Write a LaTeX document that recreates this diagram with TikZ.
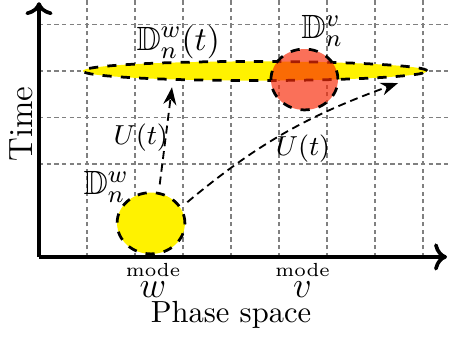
\documentclass[tikz,border=0pt]{standalone}
\usepackage{tikz}
\usepackage{amsmath, amssymb}
\usetikzlibrary{shapes.geometric, arrows.meta}

\definecolor{vred}{RGB}{248,42,8}

\tikzset{
    gridline/.style={gray, thin, dash pattern=on 1.4pt off 1.1pt},
    disk/.style={ellipse, draw=black, line width=0.9pt, dashed, inner sep=0pt},
    flow/.style={-Stealth, semithick, dash pattern=on 2.6pt off 1.6pt, shorten <=2.5pt},
    modelabel/.style={font=\fontsize{6.2}{7}\selectfont, inner sep=0pt},
    setlabel/.style={inner sep=1pt, font=\fontsize{11}{13}\selectfont},
    maplabel/.style={inner sep=1pt, font=\small}
}

\begin{document}
\begin{tikzpicture}[x=0.552cm, y=0.5345cm]
    \useasboundingbox (-0.8125,-1.785) rectangle (8.5625,5.527);

    % The grid
    \foreach \i in {1,...,8}
        \draw[gridline] (\i,0) -- (\i,5.527);
    \foreach \j in {2,...,5}
        \draw[gridline] (0,\j) -- (8.5625,\j);

    % The axes
    \draw[->, very thick] (0,0) -- (8.5,0);
    \draw[->, very thick] (0,0) -- (0,5.48);
    \node[rotate=90, font=\fontsize{11}{13}\selectfont] (time) at (-0.36,2.86) {Time};
    \node (phase) at (4.0,-1.24) {Phase space};

    % The two modes
    \node[modelabel] (modew) at (2.375,-0.29) {mode};
    \node[inner sep=0pt] (labw) at (2.375,-0.71) {\large $w$};
    \node[modelabel] (modev) at (5.49,-0.29) {mode};
    \node[inner sep=0pt] (labv) at (5.49,-0.71) {\large $v$};

    % Initial disk and the spread-out set
    \node[disk, fill=yellow, minimum width=0.78cm, minimum height=0.705cm] (wdisk) at (2.333,0.724) {};
    \node[disk, fill=yellow, minimum width=3.96cm, minimum height=0.22cm] (wflow) at (4.5,4.0) {};
    \node[disk, fill=vred, fill opacity=0.67, minimum width=0.77cm, minimum height=0.70cm] (vdisk) at (5.53,3.817) {};

    \node[setlabel] (labwflow) at (2.9,4.63) {$\mathbb{D}_n^w(t)$};
    \node[setlabel] (labvdisk) at (5.9,4.86) {$\mathbb{D}_n^v$};
    \node[setlabel] (labwdisk) at (1.40,1.50) {$\mathbb{D}_n^w$};

    % The evolution U(t)
    \coordinate (tip1) at (2.77,3.65);
    \coordinate (tip2) at (7.48,3.74);
    \draw[flow] (wdisk.76) -- (tip1);
    \draw[flow] (wdisk.28) to[bend left=10] (tip2);
    \node[maplabel] (lab1) at (2.12,2.56) {$U(t)$};
    \node[maplabel] (lab2) at (5.5,2.34) {$U(t)$};
\end{tikzpicture}
\end{document}
